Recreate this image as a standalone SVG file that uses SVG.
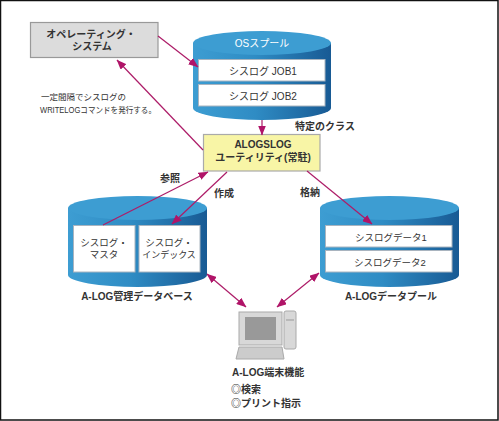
<svg xmlns="http://www.w3.org/2000/svg" width="499" height="421" viewBox="0 0 499 421">
<style>
text{font-family:"Liberation Sans","Noto Sans CJK JP",sans-serif;font-size:10px;fill:#333;text-anchor:middle}
.b{font-weight:700}
.l{text-anchor:start}
.w{fill:#fff}
.s9{font-size:9px}
.s95{font-size:9.5px}
.s85{font-size:8.5px}
.box{fill:#fff;stroke:#a9b4bf;stroke-width:1}
.cs{fill:url(#cyl)}
.ct{fill:#3d9dd2}
.a{fill:none;stroke:#ad1c68;stroke-width:1.2}
</style>
<defs>
<linearGradient id="cyl" x1="0" x2="1" y1="0" y2="0"><stop offset="0" stop-color="#3d9dd2"/><stop offset=".45" stop-color="#2f8cc4"/><stop offset="1" stop-color="#185a94"/></linearGradient>
<marker id="e" viewBox="0 0 10 8" refX="9.5" refY="4" markerWidth="10" markerHeight="8" markerUnits="userSpaceOnUse" orient="auto-start-reverse"><path d="M0 0L10 4L0 8z" fill="#b01468"/></marker>
</defs>
<rect width="499" height="421" fill="#fff"/>
<rect x="0.500" y="0.500" width="497.500" height="419.500" fill="none" stroke="#111" stroke-width="1.500"/>
<g id="os">
<rect x="30.500" y="22.500" width="127.500" height="35" fill="#dcdcdc" stroke="#999" stroke-width="1.200"/>
<text x="91" y="38" class="b">オペレーティング・</text>
<text x="92" y="50" class="b">システム</text>
</g>
<g id="spool">
<path class="cs" d="M193 43V108A69 12 0 0 0 331 108V43z"/>
<ellipse class="ct" cx="262" cy="43" rx="69" ry="12"/>
<text x="262" y="47" class="w">OSスプール</text>
<rect class="box" x="198.500" y="59.500" width="126.500" height="21.500"/>
<text x="263" y="75">シスログ  JOB1</text>
<rect class="box" x="198.500" y="84.500" width="126.500" height="21.500"/>
<text x="263" y="100">シスログ  JOB2</text>
</g>
<g id="alogslog">
<rect x="203.500" y="134.500" width="116.500" height="36.500" fill="#f8f5a6" stroke="#aaa" stroke-width="1.200"/>
<text x="263" y="148" class="b">ALOGSLOG</text>
<text x="263" y="161" class="b">ユーティリティ(常駐)</text>
</g>
<g id="db">
<path class="cs" d="M68 208V275A69.500 12 0 0 0 207 275V208z"/>
<ellipse class="ct" cx="137.500" cy="208" rx="69.500" ry="12"/>
<rect class="box" x="73.500" y="225.500" width="61.500" height="46.500"/>
<text x="104" y="246" class="s95">シスログ・</text>
<text x="104" y="258" class="s95">マスタ</text>
<rect class="box" x="139" y="225.500" width="61" height="46.500"/>
<text x="169" y="246" class="s95">シスログ・</text>
<text x="169" y="258" class="s9">インデックス</text>
<text x="137" y="300" class="b">A-LOG管理データベース</text>
</g>
<g id="pool">
<path class="cs" d="M320 208V275A69.500 12 0 0 0 459 275V208z"/>
<ellipse class="ct" cx="389.500" cy="208" rx="69.500" ry="12"/>
<rect class="box" x="325.500" y="225.500" width="126.500" height="21.500"/>
<text x="391" y="241" class="s95">シスログデータ1</text>
<rect class="box" x="325.500" y="250.500" width="126.500" height="21.500"/>
<text x="390" y="266" class="s95">シスログデータ2</text>
<text x="391" y="300" class="b">A-LOGデータプール</text>
</g>
<g id="terminal">
<rect x="239" y="312" width="43" height="33" fill="#d8d8d8" stroke="#aaa"/>
<rect x="245" y="317" width="31" height="23" fill="#999"/>
<rect x="284" y="311" width="12" height="38" rx="2" fill="#d8d8d8" stroke="#aaa"/>
<path d="M286 320H294" stroke="#999"/>
<path d="M239 347H282L284 359H236z" fill="#ccc" stroke="#aaa"/>
<text x="232" y="376" class="l b">A-LOG端末機能</text>
<text x="231" y="393" class="l b">◎検索</text>
<text x="231" y="407" class="l b">◎プリント指示</text>
</g>
<g id="connectors">
<path class="a" d="M158 36L198 67" marker-end="url(#e)"/>
<path class="a" d="M203 150L117 60" marker-end="url(#e)"/>
<path class="a" d="M262 120V135" marker-end="url(#e)"/>
<path class="a" d="M103 225L208 172" marker-end="url(#e)"/>
<path class="a" d="M227 172L172 224" marker-end="url(#e)"/>
<path class="a" d="M307 171L372 224" marker-end="url(#e)"/>
<path class="a" d="M207 274L246 307" marker-start="url(#e)" marker-end="url(#e)"/>
<path class="a" d="M319 273L277 307" marker-start="url(#e)" marker-end="url(#e)"/>
</g>
<g id="labels">
<text x="41" y="100" class="l s85">一定間隔でシスログの</text>
<text x="40" y="113" class="l s85" textLength="116" lengthAdjust="spacingAndGlyphs">WRITELOGコマンドを発行する。</text>
<text x="325" y="130" class="b">特定のクラス</text>
<text x="170" y="182" class="b">参照</text>
<text x="224" y="197" class="b">作成</text>
<text x="310" y="196" class="b">格納</text>
</g>
</svg>
